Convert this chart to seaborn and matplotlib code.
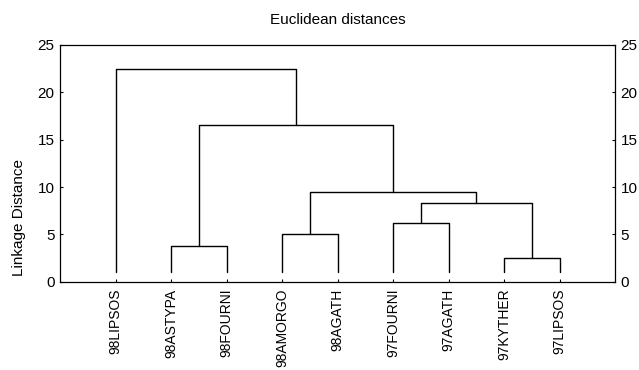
import matplotlib
matplotlib.use("Agg")
import matplotlib.pyplot as plt
import seaborn as sns
import pandas as pd

# ---- data ----
leaf_labels = ["98LIPSOS", "98ASTYPA", "98FOURNI", "98AMORGO", "98AGATH",
               "97FOURNI", "97AGATH", "97KYTHER", "97LIPSOS"]
# merges: (left node, right node, linkage distance); new node ids start at len(leaf_labels)
merge_left = [7, 1, 3, 5, 12, 11, 10, 0]
merge_right = [8, 2, 4, 6, 9, 13, 14, 15]
merge_height = [2.5, 3.77, 5.04, 6.23, 8.34, 9.44, 16.55, 22.43]
y_ticks = [0, 5, 10, 15, 20, 25]

# ---- style ----
sns.set_style("white")
plt.rcParams['font.family'] = ['Liberation Sans', 'DejaVu Sans']
plt.rcParams['text.color'] = 'black'
plt.rcParams['xtick.color'] = 'black'
plt.rcParams['ytick.color'] = 'black'

leaf_base = 1.0
n = len(leaf_labels)
pos_x = {i: i + 1 for i in range(n)}
pos_h = {i: leaf_base for i in range(n)}
rows = []
for k, (l, r, h) in enumerate(zip(merge_left, merge_right, merge_height)):
    node = n + k
    pts = [(pos_x[l], pos_h[l]), (pos_x[l], h), (pos_x[r], h), (pos_x[r], pos_h[r])]
    for j, (px, py) in enumerate(pts):
        rows.append({"x": px, "y": py, "seg": k, "order": j})
    pos_x[node] = (pos_x[l] + pos_x[r]) / 2
    pos_h[node] = h
df = pd.DataFrame(rows)

fig = plt.figure(figsize=(6.39, 3.70), dpi=100)
ax = fig.add_axes([60 / 639, 1 - 281.7 / 370, 555 / 639, (281.7 - 45) / 370])

sns.lineplot(data=df, x="x", y="y", units="seg", estimator=None, sort=False,
             color="black", linewidth=1.0, ax=ax, legend=False)

ax.set_xlim(0, n + 1)
ax.set_ylim(0, 25)
ax.set_xticks(range(1, n + 1))
ax.set_xticklabels(leaf_labels, rotation=90, fontsize=10, color="black")
ax.set_yticks(y_ticks)
ax.set_yticklabels([str(t) for t in y_ticks], fontsize=11, color="black")
ax.tick_params(axis="both", direction="in", length=2, width=0.8, color="black",
               labelcolor="black")
ax.tick_params(axis="y", right=True, labelright=True, left=True, labelleft=True, pad=4)
ax.tick_params(axis="x", bottom=True, pad=5)
for s in ax.spines.values():
    s.set_color("black")
    s.set_linewidth(0.9)
ax.set_xlabel("")
ax.set_ylabel("")

fig.text(338 / 639, 1 - 20 / 370, "Euclidean distances", ha="center", va="center",
         fontsize=11, color="black")
fig.text(19 / 639, 1 - 217 / 370, "Linkage Distance", rotation=90, ha="center",
         va="center", fontsize=11, color="black")

fig.savefig("out.png", dpi=100)
